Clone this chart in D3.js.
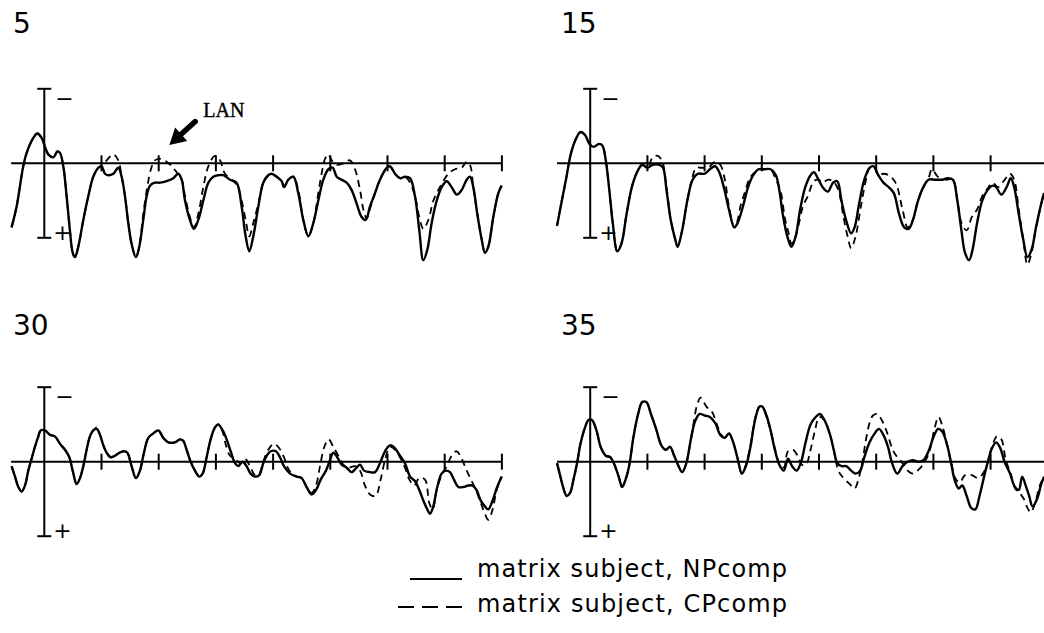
<!DOCTYPE html>
<html>
<head>
<meta charset="utf-8">
<script src="https://cdn.jsdelivr.net/npm/d3@7"></script>
<style>
  body { margin: 0; background: #fff; }
  svg { display: block; }
</style>
</head>
<body>
<div id="chart"></div>
<script>
// ERP grand averages, four panels. x = ms (word onsets every 500 ms), y = µV, negative plotted up.
const panelLabels = ['5', '15', '30', '35'];
const tickTimes = [500, 1000, 1500, 2000, 2500, 3000, 3500, 4000];
const timeDomain = [-290, 4000];
const voltDomain = [-5, 5];
const legendLabels = ['matrix subject, NPcomp', 'matrix subject, CPcomp'];

const np5 = [[-286,4.3],[-242,2.9],[-184,0.2],[-154,-0.7],[-96,-1.7],[-61,-2.0],[-23,-1.7],[6,-1.1],[35,-0.6],[79,-0.4],[114,-0.8],[137,-0.7],[166,0.2],[195,2.2],[224,4.5],[248,6.0],[268,6.3],[297,5.6],[341,3.8],[385,2.2],[428,0.9],[472,0.3],[501,0.2],[530,0.7],[559,0.8],[603,0.7],[647,0.3],[676,0.9],[705,2.2],[734,4.0],[763,5.4],[801,6.3],[830,5.6],[865,3.8],[895,2.2],[924,1.5],[967,1.3],[1011,1.3],[1069,1.2],[1128,1.0],[1171,0.7],[1201,1.1],[1230,2.5],[1273,3.8],[1308,4.4],[1346,3.8],[1390,2.5],[1434,1.3],[1477,0.9],[1521,0.8],[1565,0.8],[1623,1.1],[1681,1.3],[1725,2.9],[1760,4.9],[1792,5.9],[1827,4.9],[1871,2.9],[1914,1.3],[1958,0.8],[1987,0.7],[2031,0.9],[2075,1.2],[2095,1.6],[2133,1.1],[2177,0.9],[2220,2.0],[2264,3.8],[2308,4.9],[2352,4.0],[2395,2.5],[2439,1.1],[2483,0.4],[2521,0.3],[2556,0.9],[2599,1.1],[2643,1.3],[2687,1.8],[2730,2.7],[2774,3.6],[2809,3.8],[2847,2.9],[2891,2.0],[2934,1.1],[2993,0.3],[3022,0.2],[3066,0.7],[3109,1.0],[3153,0.9],[3197,1.0],[3240,2.2],[3278,4.5],[3313,6.5],[3348,5.8],[3386,4.0],[3430,2.5],[3474,1.6],[3517,1.2],[3561,1.6],[3605,2.1],[3648,1.8],[3692,1.1],[3721,0.9],[3750,1.6],[3785,3.4],[3823,5.1],[3852,6.0],[3881,5.6],[3925,3.6],[3969,2.0],[3998,1.5]];
const cp5 = [[-286,4.3],[-242,2.9],[-184,0.2],[-154,-0.7],[-96,-1.7],[-61,-2.0],[-23,-1.7],[6,-1.1],[35,-0.6],[79,-0.4],[114,-0.8],[137,-0.7],[166,0.2],[195,2.2],[224,4.5],[248,6.0],[268,6.3],[297,5.6],[341,3.8],[385,2.2],[428,0.9],[472,0.3],[501,0.2],[545,-0.2],[603,-0.6],[647,-0.2],[676,0.9],[705,2.2],[734,4.0],[763,5.4],[801,6.3],[830,5.6],[865,3.4],[900,1.6],[932,0.4],[967,-0.2],[1011,-0.3],[1069,-0.1],[1113,0.2],[1157,0.6],[1201,1.1],[1230,2.2],[1273,3.6],[1308,4.3],[1346,3.4],[1390,1.6],[1434,0.2],[1492,-0.5],[1536,-0.2],[1579,0.7],[1638,1.1],[1687,1.5],[1725,2.5],[1760,3.8],[1792,4.9],[1827,4.0],[1871,2.7],[1914,1.3],[1958,0.8],[1987,0.7],[2031,0.9],[2075,1.2],[2095,1.6],[2133,1.1],[2177,0.9],[2220,1.8],[2264,3.8],[2308,4.9],[2352,4.0],[2395,2.0],[2424,0.7],[2454,-0.3],[2483,-0.6],[2512,-0.2],[2556,0.1],[2614,0.0],[2672,-0.2],[2716,0.4],[2760,1.8],[2789,3.1],[2818,3.7],[2853,2.9],[2891,2.0],[2934,1.1],[2993,0.3],[3022,0.2],[3066,0.7],[3109,1.0],[3153,0.9],[3197,1.3],[3240,2.2],[3278,3.6],[3313,4.4],[3357,3.8],[3401,2.5],[3444,1.8],[3488,1.2],[3532,0.7],[3590,0.4],[3648,0.3],[3692,-0.1],[3721,0.1],[3750,1.6],[3785,3.4],[3823,5.1],[3852,6.0],[3881,5.6],[3925,3.6],[3969,2.0],[3998,1.5]];

const np15 = [[-290,4.2],[-258,2.9],[-212,1.1],[-167,-0.7],[-121,-1.7],[-85,-2.1],[-45,-1.9],[-6,-1.3],[30,-1.1],[76,-1.3],[106,-1.2],[136,-0.2],[167,1.8],[197,4.0],[237,5.9],[273,5.4],[318,3.4],[364,1.6],[409,0.6],[455,0.1],[500,0.3],[546,0.1],[607,0.1],[637,0.3],[667,1.8],[704,3.8],[743,5.1],[764,5.6],[804,4.5],[849,2.5],[895,1.1],[940,0.7],[1001,0.7],[1046,0.4],[1092,0.2],[1128,0.6],[1168,1.6],[1213,3.1],[1259,4.3],[1289,4.0],[1335,2.9],[1380,1.6],[1425,0.8],[1471,0.4],[1516,0.4],[1577,0.4],[1623,0.8],[1653,1.8],[1683,3.4],[1723,4.9],[1759,5.6],[1796,4.9],[1835,3.1],[1880,1.6],[1926,0.8],[1956,0.6],[1996,1.1],[2032,1.6],[2078,1.9],[2123,1.3],[2160,1.2],[2196,2.5],[2236,3.8],[2281,4.7],[2311,4.3],[2351,2.7],[2396,1.1],[2442,0.3],[2478,0.2],[2518,0.8],[2563,1.3],[2609,1.6],[2654,2.0],[2700,3.4],[2745,4.3],[2784,4.4],[2821,3.8],[2866,2.5],[2912,1.6],[2957,1.1],[3018,1.1],[3079,1.1],[3124,1.0],[3170,1.1],[3209,2.5],[3245,4.5],[3276,6.0],[3312,6.5],[3342,5.8],[3382,4.0],[3427,2.5],[3473,1.8],[3519,1.5],[3549,1.6],[3594,2.1],[3640,1.6],[3676,1.0],[3706,1.6],[3746,3.4],[3785,5.1],[3822,6.3],[3858,5.8],[3897,4.3],[3943,2.7],[3967,2.0]];
const cp15 = [[-290,4.2],[-258,2.9],[-212,1.1],[-167,-0.7],[-121,-1.7],[-85,-2.1],[-45,-1.9],[-6,-1.3],[30,-1.1],[76,-1.3],[106,-1.2],[136,-0.2],[167,1.8],[197,4.0],[237,5.9],[273,5.4],[318,3.4],[364,1.6],[409,0.6],[455,0.1],[500,0.3],[546,-0.4],[591,-0.5],[631,-0.1],[667,1.6],[704,3.8],[743,5.1],[764,5.6],[804,4.5],[849,2.5],[895,0.9],[925,0.3],[971,0.3],[1031,0.3],[1092,-0.1],[1137,0.1],[1177,1.1],[1213,2.9],[1259,4.3],[1289,3.8],[1313,2.9],[1350,2.0],[1395,1.0],[1441,0.6],[1516,0.4],[1577,0.4],[1623,1.1],[1662,1.8],[1705,3.8],[1735,4.7],[1759,5.4],[1796,4.9],[1826,4.0],[1859,2.9],[1902,2.2],[1956,1.2],[1996,1.1],[2032,1.3],[2078,1.1],[2123,1.2],[2169,1.8],[2214,3.6],[2250,4.9],[2281,5.7],[2320,4.9],[2366,2.9],[2411,1.1],[2442,0.3],[2478,0.2],[2518,0.8],[2563,0.7],[2609,0.8],[2669,1.3],[2730,3.1],[2775,4.3],[2821,3.8],[2866,2.5],[2912,1.6],[2957,1.0],[2988,0.4],[3039,0.9],[3109,1.1],[3170,1.1],[3209,2.5],[3245,4.0],[3291,4.5],[3336,3.6],[3382,3.1],[3427,2.2],[3473,1.7],[3519,1.3],[3564,1.6],[3624,1.1],[3670,0.7],[3706,1.1],[3746,3.1],[3785,5.1],[3822,6.8],[3858,6.0],[3897,4.3],[3943,2.7],[3967,2.0]];

const np30 = [[-286,0.3],[-256,1.0],[-227,1.7],[-198,2.0],[-169,1.6],[-140,0.6],[-111,-0.2],[-82,-1.0],[-52,-1.7],[-32,-2.1],[6,-2.1],[50,-1.8],[93,-1.7],[137,-1.2],[181,-0.8],[219,-0.3],[248,0.6],[283,1.5],[312,1.1],[341,0.3],[370,-0.8],[399,-1.7],[428,-2.1],[458,-2.2],[487,-1.8],[516,-1.1],[545,-0.6],[580,-0.3],[618,-0.4],[656,-0.6],[696,-0.7],[726,-0.6],[763,0.3],[801,1.1],[836,0.6],[871,-0.6],[909,-1.6],[953,-1.9],[997,-2.1],[1040,-1.6],[1084,-1.3],[1142,-1.3],[1186,-1.5],[1215,-1.4],[1244,-0.8],[1279,0.0],[1317,0.6],[1355,1.0],[1384,0.8],[1419,-0.3],[1454,-1.5],[1492,-2.3],[1521,-2.5],[1559,-2.1],[1594,-1.5],[1629,-0.7],[1667,0.1],[1696,0.3],[1733,0.0],[1768,0.3],[1803,0.8],[1842,1.0],[1879,0.9],[1914,0.1],[1944,-0.4],[1979,-0.7],[2025,-0.7],[2060,-0.3],[2095,0.3],[2148,0.8],[2206,1.0],[2250,1.1],[2293,1.7],[2337,2.2],[2375,1.9],[2416,1.2],[2462,0.6],[2497,-0.1],[2526,-0.6],[2561,-0.3],[2599,0.2],[2643,0.4],[2686,0.7],[2730,0.4],[2760,0.2],[2795,0.6],[2847,0.7],[2891,0.7],[2934,0.1],[2978,-0.7],[3022,-1.1],[3066,-0.9],[3109,-0.4],[3153,0.1],[3197,1.0],[3240,1.3],[3278,1.9],[3313,2.6],[3348,3.2],[3371,3.5],[3400,3.0],[3435,1.7],[3473,0.8],[3511,0.6],[3546,0.7],[3581,1.2],[3619,1.7],[3663,1.7],[3706,1.6],[3744,1.6],[3779,1.9],[3814,2.6],[3852,3.0],[3881,3.2],[3919,2.6],[3954,1.8],[3998,1.0]];
const cp30 = [[-286,0.3],[-256,1.0],[-227,1.7],[-198,2.0],[-169,1.6],[-140,0.6],[-111,-0.2],[-82,-1.0],[-52,-1.7],[-32,-2.1],[6,-2.1],[50,-1.8],[93,-1.7],[137,-1.2],[181,-0.8],[219,-0.3],[248,0.6],[283,1.5],[312,1.1],[341,0.3],[370,-0.8],[399,-1.7],[428,-2.1],[458,-2.3],[487,-1.8],[516,-1.1],[545,-0.6],[580,-0.3],[618,-0.4],[656,-0.6],[696,-0.7],[726,-0.6],[763,0.3],[801,1.1],[836,0.6],[871,-0.6],[909,-1.6],[953,-1.9],[997,-2.1],[1040,-1.6],[1084,-1.3],[1142,-1.3],[1186,-1.5],[1215,-1.4],[1244,-0.8],[1279,0.0],[1317,0.6],[1355,1.0],[1384,0.8],[1419,-0.3],[1454,-1.5],[1492,-2.3],[1521,-2.5],[1559,-2.0],[1588,-1.1],[1623,-0.4],[1667,-0.2],[1710,0.1],[1754,-0.2],[1798,0.3],[1842,0.9],[1879,0.8],[1914,0.0],[1958,-0.8],[2008,-1.2],[2054,-0.9],[2095,-0.3],[2142,0.6],[2206,1.0],[2250,1.1],[2293,1.7],[2337,2.1],[2375,1.6],[2410,0.3],[2448,-1.0],[2486,-1.5],[2526,-1.0],[2570,-0.4],[2614,0.2],[2658,0.4],[2716,0.3],[2760,0.6],[2803,1.6],[2847,2.2],[2896,2.3],[2940,1.2],[2978,-0.1],[3022,-1.0],[3066,-0.8],[3109,-0.3],[3153,0.4],[3191,1.2],[3232,1.6],[3278,1.1],[3328,1.2],[3366,2.8],[3395,3.2],[3430,1.9],[3473,0.9],[3517,0.3],[3561,-0.4],[3605,-0.7],[3648,-0.2],[3692,0.6],[3736,1.3],[3779,2.0],[3817,2.8],[3852,3.5],[3881,3.9],[3919,3.2],[3954,1.9],[3998,1.0]];

const np35 = [[-290,0.1],[-267,0.8],[-237,1.7],[-206,2.3],[-176,2.1],[-146,1.2],[-115,0.1],[-85,-1.2],[-45,-2.3],[-15,-2.8],[15,-2.8],[55,-2.1],[91,-1.0],[136,-0.4],[176,-0.3],[212,0.2],[249,1.0],[279,1.7],[309,1.2],[340,0.3],[379,-1.7],[419,-3.2],[455,-4.0],[491,-4.0],[531,-3.2],[576,-2.2],[622,-1.1],[661,-0.8],[698,-1.0],[734,-0.4],[773,0.3],[804,0.7],[840,0.1],[880,-1.5],[916,-2.7],[955,-3.2],[1001,-3.1],[1046,-3.0],[1092,-2.6],[1137,-1.8],[1177,-1.6],[1213,-1.9],[1250,-1.3],[1289,-0.2],[1326,0.8],[1365,0.2],[1401,-1.0],[1441,-2.8],[1480,-3.7],[1504,-3.7],[1541,-3.1],[1577,-2.1],[1614,-0.8],[1653,0.2],[1692,0.6],[1729,-0.2],[1765,0.3],[1805,0.6],[1844,0.0],[1880,-1.2],[1926,-2.5],[1971,-3.0],[2008,-3.2],[2047,-2.8],[2093,-1.9],[2129,-0.8],[2160,0.1],[2199,0.3],[2239,0.3],[2281,0.6],[2320,0.8],[2360,0.6],[2396,-0.3],[2442,-1.3],[2487,-1.9],[2524,-2.2],[2563,-1.8],[2603,-1.0],[2639,0.1],[2684,0.8],[2730,0.3],[2775,0.0],[2821,-0.1],[2866,0.0],[2912,-0.1],[2957,-0.7],[3003,-1.7],[3042,-2.2],[3079,-2.0],[3124,-1.0],[3155,0.1],[3185,1.2],[3221,1.8],[3252,1.6],[3291,2.3],[3330,3.1],[3367,3.2],[3403,2.3],[3443,1.0],[3473,0.1],[3512,-0.9],[3549,-1.3],[3585,-0.9],[3622,0.0],[3670,0.8],[3706,1.6],[3746,1.9],[3776,1.0],[3807,1.6],[3837,2.3],[3867,3.0],[3906,2.5],[3943,1.5],[3967,1.0]];
const cp35 = [[-290,0.1],[-267,0.8],[-237,1.7],[-206,2.3],[-176,2.1],[-146,1.2],[-115,0.1],[-85,-1.2],[-45,-2.3],[-15,-2.8],[15,-2.8],[55,-2.1],[91,-1.0],[136,-0.4],[176,-0.3],[212,0.2],[249,1.0],[279,1.7],[309,1.2],[340,0.3],[379,-1.7],[419,-3.2],[455,-4.0],[491,-4.0],[531,-3.2],[576,-2.2],[622,-1.1],[661,-0.8],[698,-1.0],[734,-0.4],[773,0.3],[804,0.7],[840,0.1],[880,-1.5],[904,-2.6],[934,-3.8],[965,-4.3],[1016,-3.7],[1068,-3.3],[1107,-2.5],[1146,-1.8],[1177,-1.6],[1213,-1.9],[1250,-1.3],[1289,-0.2],[1326,0.8],[1365,0.1],[1401,-1.1],[1441,-2.9],[1480,-3.7],[1504,-3.7],[1541,-3.0],[1577,-2.1],[1614,-0.9],[1653,0.1],[1692,0.4],[1729,-0.7],[1774,-0.8],[1813,-0.4],[1850,0.2],[1886,0.2],[1926,-0.8],[1965,-2.1],[2002,-3.0],[2047,-2.8],[2093,-1.9],[2129,-0.8],[2169,0.6],[2214,1.1],[2269,1.5],[2311,1.8],[2351,1.0],[2381,-0.1],[2411,-1.5],[2442,-2.6],[2472,-3.1],[2511,-3.2],[2548,-2.8],[2593,-2.0],[2639,-0.9],[2675,-0.4],[2730,0.1],[2775,0.6],[2821,0.8],[2875,0.5],[2918,0.1],[2966,-0.7],[3009,-2.2],[3045,-3.0],[3082,-2.3],[3124,-1.0],[3160,0.2],[3191,1.1],[3230,1.4],[3276,0.9],[3336,0.9],[3391,1.1],[3433,0.8],[3473,0.1],[3512,-1.0],[3555,-1.7],[3594,-1.5],[3633,-0.1],[3676,0.8],[3715,1.8],[3752,2.1],[3791,2.5],[3822,3.1],[3852,3.4],[3891,2.7],[3930,1.6],[3967,1.0]];

const npSeries = [np5, np15, np30, np35];
const cpSeries = [cp5, cp15, cp30, cp35];

// LAN arrow annotation (panel "5"), data coordinates
const lanTip = [1093, -1.23];
const lanTail = [1319, -2.8];
const lanText = [1390, -3.1];

const W = 1044, H = 633;
const svg = d3.select('#chart').append('svg')
  .attr('width', W).attr('height', H)
  .attr('viewBox', `0 0 ${W} ${H}`);

// panel origins: (x of time zero, y of 0 µV) and where the panel number sits
const origins = [
  { x: 44.3, y: 163.3, lx: 13, ly: 33 },
  { x: 590.2, y: 163.3, lx: 561, ly: 33 },
  { x: 44.3, y: 461.7, lx: 13, ly: 335 },
  { x: 590.2, y: 461.7, lx: 561, ly: 335 },
];
const pxPerMs = 57.2 / 500;
const pxPerUv = 14.9;

const line = (x, y) => d3.line()
  .x((d) => x(d[0]))
  .y((d) => y(d[1]))
  .curve(d3.curveCatmullRom.alpha(0.5));

origins.forEach((o, i) => {
  const x = d3.scaleLinear().domain(timeDomain)
    .range([o.x + timeDomain[0] * pxPerMs, o.x + timeDomain[1] * pxPerMs]);
  const y = d3.scaleLinear().domain(voltDomain)
    .range([o.y + voltDomain[0] * pxPerUv, o.y + voltDomain[1] * pxPerUv]);
  const g = svg.append('g');

  // panel number
  g.append('text')
    .attr('x', o.lx).attr('y', o.ly)
    .attr('font-family', 'DejaVu Sans, sans-serif')
    .attr('font-size', 28)
    .attr('fill', '#000')
    .text(panelLabels[i]);

  // time baseline + word-onset ticks
  g.append('line')
    .attr('x1', x(timeDomain[0])).attr('x2', x(timeDomain[1]))
    .attr('y1', y(0)).attr('y2', y(0))
    .attr('stroke', '#000').attr('stroke-width', 2);
  g.selectAll('.tick')
    .data(tickTimes)
    .enter().append('line')
    .attr('x1', (d) => x(d)).attr('x2', (d) => x(d))
    .attr('y1', y(0) - 8).attr('y2', y(0) + 8)
    .attr('stroke', '#000').attr('stroke-width', 2);

  // voltage axis with end caps
  g.append('line')
    .attr('x1', x(0)).attr('x2', x(0))
    .attr('y1', y(voltDomain[0])).attr('y2', y(voltDomain[1]))
    .attr('stroke', '#000').attr('stroke-width', 2);
  g.selectAll('.cap')
    .data(voltDomain)
    .enter().append('line')
    .attr('x1', x(0) - 7).attr('x2', x(0) + 7)
    .attr('y1', (d) => y(d)).attr('y2', (d) => y(d))
    .attr('stroke', '#000').attr('stroke-width', 2);
  g.append('text')
    .attr('x', x(0) + 11).attr('y', y(voltDomain[0]) + 17)
    .attr('font-family', 'DejaVu Sans, sans-serif')
    .attr('font-size', 22).text('\u2212');
  g.append('text')
    .attr('x', x(0) + 9).attr('y', y(voltDomain[1]) + 2)
    .attr('font-family', 'DejaVu Sans, sans-serif')
    .attr('font-size', 22).text('+');

  // CPcomp dashed underneath, NPcomp solid on top
  g.append('path')
    .datum(cpSeries[i])
    .attr('d', line(x, y))
    .attr('fill', 'none')
    .attr('stroke', '#000')
    .attr('stroke-width', 1.8)
    .attr('stroke-dasharray', '7,5');
  g.append('path')
    .datum(npSeries[i])
    .attr('d', line(x, y))
    .attr('fill', 'none')
    .attr('stroke', '#000')
    .attr('stroke-width', 2.4)
    .attr('stroke-linejoin', 'round');

  if (i === 0) {
    const tip = [x(lanTip[0]), y(lanTip[1])];
    const tail = [x(lanTail[0]), y(lanTail[1])];
    const dx = tip[0] - tail[0], dy = tip[1] - tail[1];
    const len = Math.hypot(dx, dy);
    const ux = dx / len, uy = dy / len;
    const headLen = 16, hw = 9;
    const base = [tip[0] - ux * headLen, tip[1] - uy * headLen];
    g.append('line')
      .attr('x1', tail[0]).attr('y1', tail[1])
      .attr('x2', base[0]).attr('y2', base[1])
      .attr('stroke', '#000').attr('stroke-width', 5.5)
      .attr('stroke-linecap', 'round');
    g.append('path')
      .attr('d', `M${tip[0]},${tip[1]}L${base[0] - uy * hw},${base[1] + ux * hw}L${base[0] + uy * hw},${base[1] - ux * hw}Z`)
      .attr('fill', '#000');
    g.append('text')
      .attr('x', x(lanText[0])).attr('y', y(lanText[1]))
      .attr('font-family', 'Liberation Serif, Times New Roman, serif')
      .attr('font-size', 20)
      .attr('fill', '#000')
      .attr('stroke', '#000')
      .attr('stroke-width', 0.4)
      .text('LAN');
  }
});

// legend
const legend = svg.append('g');
legend.append('line')
  .attr('x1', 410).attr('x2', 462).attr('y1', 579).attr('y2', 579)
  .attr('stroke', '#000').attr('stroke-width', 2);
legend.append('line')
  .attr('x1', 398).attr('x2', 462).attr('y1', 607).attr('y2', 607)
  .attr('stroke', '#000').attr('stroke-width', 2)
  .attr('stroke-dasharray', '16,8');
legend.selectAll('.lg')
  .data(legendLabels)
  .enter().append('text')
  .attr('x', 477)
  .attr('y', (d, i) => 577 + i * 35)
  .attr('font-family', 'DejaVu Sans, sans-serif')
  .attr('font-size', 24)
  .attr('textLength', 310)
  .attr('lengthAdjust', 'spacing')
  .attr('fill', '#000')
  .text((d) => d);
</script>
</body>
</html>
